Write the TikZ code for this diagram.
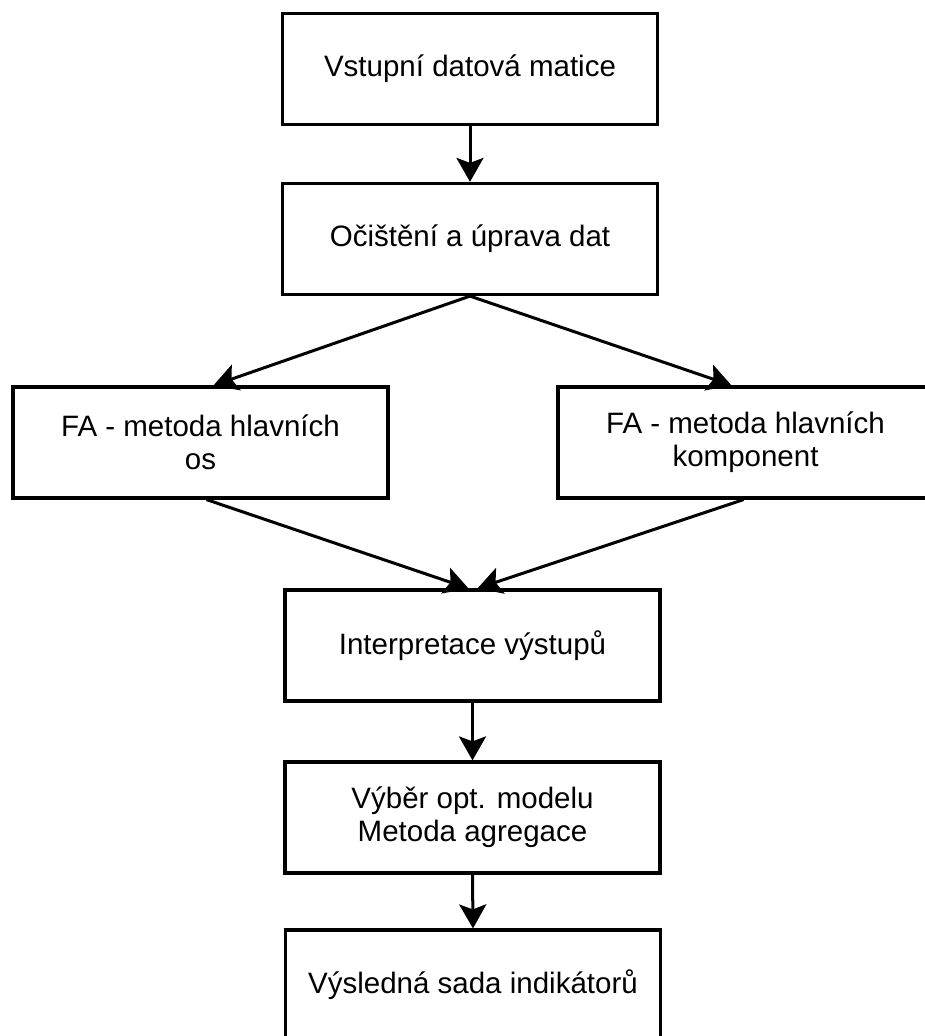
\documentclass[tikz,border=0pt]{standalone}
\usepackage{fontspec}
\setmainfont{Liberation Sans}
\usetikzlibrary{arrows.meta}

\tikzset{
  stepbox/.style={draw=black, line width=3.2pt, fill=white,
    minimum width=375pt, minimum height=111pt, inner sep=0pt,
    align=center, font=\fontsize{29.5}{33}\selectfont},
  flow/.style={line width=3pt,
    -{Stealth[length=24pt,width=27pt,inset=5pt]}}
}

\begin{document}
\begin{tikzpicture}[x=1pt,y=-1pt]
  \useasboundingbox (0,0) rectangle (924,1036);

  % process steps
  \node[stepbox] (b1) at (470,69)    {Vstupní datová matice};
  \node[stepbox] (b2) at (470,239)   {Očištění a úprava dat};
  \node[stepbox] (b3) at (200.5,442.5) {FA - metoda hlavních\\os};
  \node[stepbox] (b4) at (745.5,442.5) {FA - metoda hlavních\\komponent};
  \node[stepbox] (b5) at (472.5,645.5) {Interpretace výstupů};
  \node[stepbox] (b6) at (472.5,817.5) {Výběr opt. modelu\\Metoda agregace};
  \node[stepbox, minimum height=110pt] (b7) at (473,985) {Výsledná sada indikátorů};

  % connectors
  \draw[flow] (b1.south) -- (b2.north);
  \draw[flow] (b2.south) -- ([xshift=13pt]b3.north);
  \draw[flow] (b2.south) -- ([xshift=-14pt]b4.north);
  \draw[flow] ([xshift=6pt]b3.south) -- ([xshift=-4pt]b5.north);
  \draw[flow] ([xshift=-2pt]b4.south) -- ([xshift=5pt]b5.north);
  \draw[flow] (b5.south) -- (b6.north);
  \draw[flow] (b6.south) -- (b7.north);
\end{tikzpicture}
\end{document}
